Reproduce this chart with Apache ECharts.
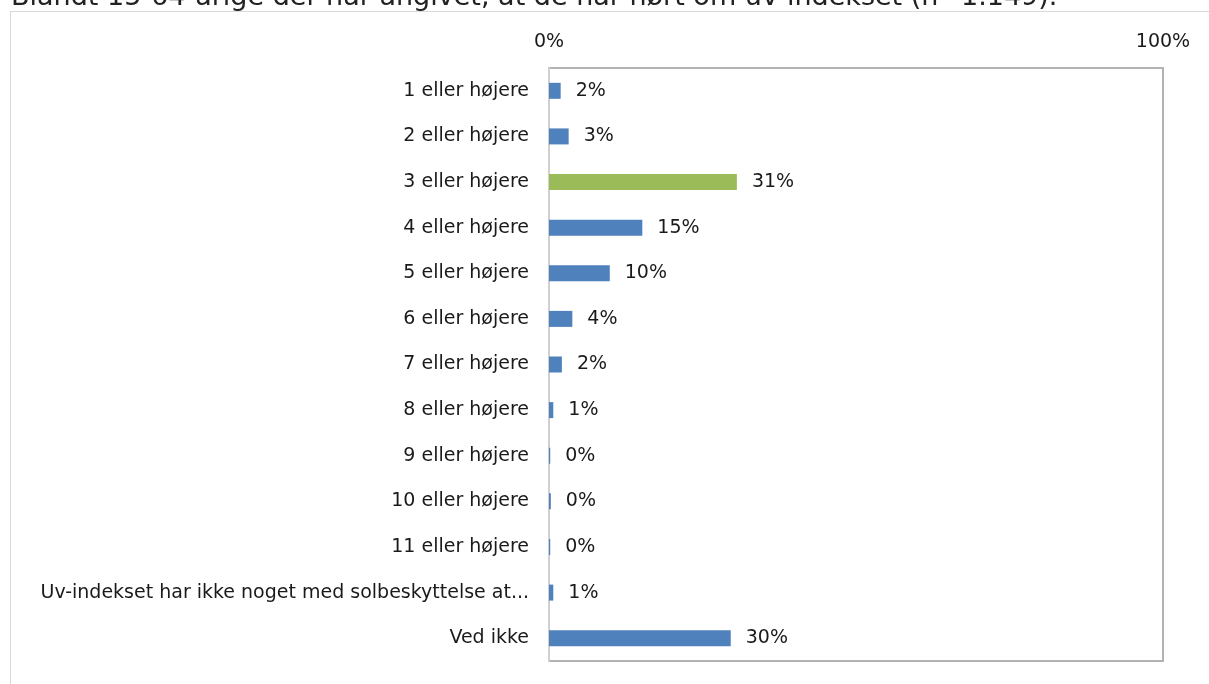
<!DOCTYPE html>
<html>
<head>
<meta charset="utf-8">
<script src="https://cdn.jsdelivr.net/npm/echarts@6/dist/echarts.min.js"></script>
<style>
html,body{margin:0;padding:0;background:#fff;}
#chart{width:1209px;height:684px;}
</style>
</head>
<body>
<div id="chart"></div>
<script>
var titleText = 'Blandt 15-64-årige der har angivet, at de har hørt om uv-indekset (n=1.149).';
var categories = ['1 eller højere','2 eller højere','3 eller højere','4 eller højere','5 eller højere','6 eller højere','7 eller højere','8 eller højere','9 eller højere','10 eller højere','11 eller højere','Uv-indekset har ikke noget med solbeskyttelse at...','Ved ikke'];
var values = [1.9, 3.2, 30.6, 15.2, 9.9, 3.8, 2.1, 0.7, 0.2, 0.3, 0.2, 0.7, 29.6];
var highlightIndex = 2;
var axisTicks = [0, 100];

var blue = '#4f81bd', green = '#9bbb59';
var chart = echarts.init(document.getElementById('chart'));
var font = 'DejaVu Sans';
chart.setOption({
  animation: false,
  title: {
    text: titleText, left: 6, top: -21,
    textStyle: {fontFamily: 'DejaVu Sans', fontSize: 27, fontWeight: 'normal', color: '#222'}
  },
  graphic: [
    {type: 'line', shape: {x1: 10, y1: 11.5, x2: 1209, y2: 11.5}, style: {stroke: '#d9d9d9', lineWidth: 1}},
    {type: 'line', shape: {x1: 10.5, y1: 11, x2: 10.5, y2: 684}, style: {stroke: '#d9d9d9', lineWidth: 1}}
  ],
  grid: {left: 549, right: 46, top: 68, bottom: 23, show: true, borderColor: '#b3b3b3', borderWidth: 2, containLabel: false},
  xAxis: {
    type: 'value', position: 'top', min: axisTicks[0], max: axisTicks[1], interval: 100,
    axisLabel: {formatter: '{value}%', margin: 16, fontFamily: font, fontSize: 19, color: '#1a1a1a'},
    axisLine: {show: false}, axisTick: {show: false}, splitLine: {show: false}
  },
  yAxis: {
    type: 'category', inverse: true, data: categories,
    axisLine: {show: true, lineStyle: {color: '#d0d0d0', width: 2}},
    axisTick: {show: false},
    axisLabel: {margin: 20, fontFamily: font, fontSize: 19, color: '#1a1a1a'}
  },
  series: [{
    type: 'bar', barWidth: 16,
    data: values.map(function(v, i){ return {value: v, itemStyle: {color: i === highlightIndex ? green : blue}}; }),
    label: {show: true, position: 'right', distance: 15, fontFamily: font, fontSize: 19, color: '#1a1a1a',
      formatter: function(p){ return Math.round(p.value) + '%'; }}
  }]
});
</script>
</body>
</html>
